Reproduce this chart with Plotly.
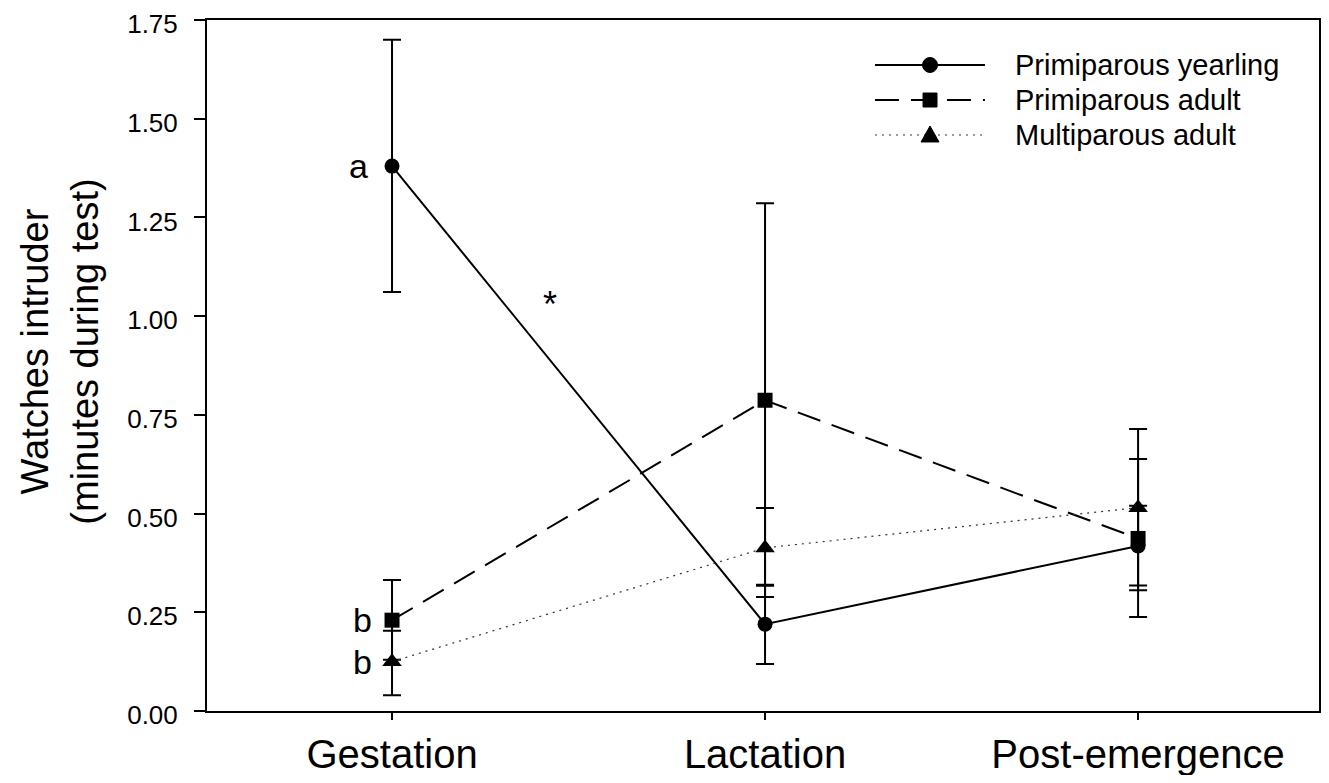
import plotly.graph_objects as go
import numpy as np

categories = ["Gestation", "Lactation", "Post-emergence"]

yearling_mean = [1.38, 0.22, 0.418]
yearling_hi = [1.70, 0.32, 0.52]
yearling_lo = [1.061, 0.119, 0.306]

padult_mean = [0.23, 0.787, 0.437]
padult_hi = [0.332, 1.286, 0.638]
padult_lo = [0.13, 0.289, 0.238]

madult_mean = [0.125, 0.413, 0.515]
madult_hi = [0.203, 0.514, 0.714]
madult_lo = [0.04, 0.317, 0.318]

y_ticks = [0.0, 0.25, 0.5, 0.75, 1.0, 1.25, 1.5, 1.75]
y_ticklabels = ["0.00", "0.25", "0.50", "0.75", "1.00", "1.25", "1.50", "1.75"]

series = [
    ("Primiparous yearling", yearling_mean, yearling_hi, yearling_lo, "circle", dict(color="black", width=2, dash="solid"), 15),
    ("Primiparous adult", padult_mean, padult_hi, padult_lo, "square", dict(color="black", width=2, dash="24px,12px"), 15),
    ("Multiparous adult", madult_mean, madult_hi, madult_lo, "triangle-up", dict(color="#333333", width=1.2, dash="2px,5px"), 17),
]

FONT = "Liberation Sans, Arial, sans-serif"
xpos = list(range(len(categories)))

fig = go.Figure()
for name, m, hi, lo, sym, line, msize in series:
    m = np.array(m); hi = np.array(hi); lo = np.array(lo)
    fig.add_trace(go.Scatter(
        x=xpos, y=m, name=name, mode="lines+markers",
        line=line,
        marker=dict(symbol=sym, size=msize, color="black"),
        error_y=dict(type="data", symmetric=False, array=hi - m, arrayminus=m - lo,
                     color="black", thickness=2, width=9),
        showlegend=False,
    ))

fig.update_layout(
    width=1313, height=767,
    margin=dict(l=199, r=2, t=12, b=64, autoexpand=False),
    paper_bgcolor="white", plot_bgcolor="white",
    font=dict(family=FONT, color="black"),
    showlegend=False,
)
fig.update_xaxes(
    range=[-0.496, 2.485], tickvals=xpos, ticktext=categories,
    showline=True, linecolor="black", linewidth=2, mirror=True,
    ticks="outside", ticklen=7, tickwidth=2, tickcolor="black",
    showgrid=False, zeroline=False, ticklabeloverflow="allow", automargin=False,
    tickfont=dict(size=40, family=FONT, color="black"),
)
fig.update_yaxes(
    range=[0, 1.75], tickvals=y_ticks, ticktext=y_ticklabels,
    showline=True, linecolor="black", linewidth=2, mirror=True,
    ticks="outside", ticklen=11, tickwidth=2, tickcolor="black",
    showgrid=False, zeroline=False, ticklabelstandoff=11, ticklabeloverflow="allow",
    ticklabelshift=4, automargin=False,
    tickfont=dict(size=26, family=FONT, color="black"),
)

# Y axis title
fig.add_annotation(
    text="Watches intruder<br>(minutes during test)", textangle=-90,
    xref="paper", yref="paper", x=-0.1322, y=0.52,
    xanchor="center", yanchor="middle", showarrow=False,
    font=dict(size=38, family=FONT, color="black"),
)

# significance letters
letters = [("a", 0, yearling_mean[0], -34), ("b", 0, padult_mean[0], -30), ("b", 0, madult_mean[0], -30)]
for t, xi, yi, dx in letters:
    fig.add_annotation(text=t, x=xi, y=yi, xshift=dx, showarrow=False,
                       xanchor="center", yanchor="middle",
                       font=dict(size=34, family=FONT, color="black"))
fig.add_annotation(text="*", x=0.424, y=1.03, showarrow=False,
                   xanchor="center", yanchor="middle",
                   font=dict(size=36, family=FONT, color="black"))

# custom legend
leg_x0, leg_x1, leg_xm, leg_tx = 0.6007, 0.6996, 0.6502, 0.7248
leg_ys = [0.9349, 0.8842, 0.8336]
for (name, m, hi, lo, sym, line, msize), ly in zip(series, leg_ys):
    fig.add_shape(type="line", xref="paper", yref="paper", x0=leg_x0, x1=leg_x1, y0=ly, y1=ly,
                  line=line)
    common = dict(xref="paper", yref="paper", xsizemode="pixel", ysizemode="pixel",
                  xanchor=leg_xm, yanchor=ly, fillcolor="black", line=dict(color="black", width=1))
    if sym == "circle":
        fig.add_shape(type="circle", x0=-7.5, x1=7.5, y0=-7.5, y1=7.5, **common)
    elif sym == "square":
        fig.add_shape(type="rect", x0=-7, x1=7, y0=-7, y1=7, **common)
    else:
        fig.add_shape(type="path", path="M -9,-7 L 9,-7 L 0,9 Z", **common)
    fig.add_annotation(text=name, xref="paper", yref="paper", x=leg_tx, y=ly,
                       xanchor="left", yanchor="middle", showarrow=False,
                       font=dict(size=29, family=FONT, color="black"))

fig.write_html("out.html")
